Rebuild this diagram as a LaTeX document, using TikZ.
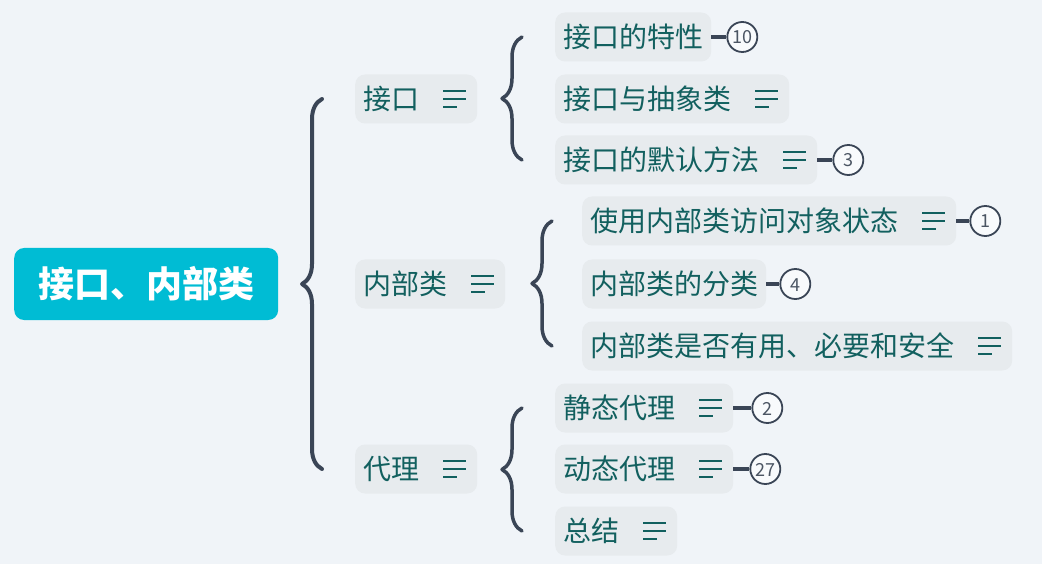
\documentclass[tikz,border=0pt]{standalone}
\usepackage{fontspec}
\setmainfont{Noto Sans CJK SC}
\usepackage{xcolor}
\definecolor{paper}{HTML}{F0F4F8}
\definecolor{chip}{HTML}{E7EBEE}
\definecolor{leaf}{HTML}{12605F}
\definecolor{rootfill}{HTML}{00BCD4}
\definecolor{slate}{HTML}{3A4556}
\definecolor{count}{HTML}{4B5563}
\usetikzlibrary{positioning, decorations.pathreplacing}
\tikzset{
  topic/.style={fill=chip, rounded corners=10pt, text=leaf, anchor=west,
    font=\fontsize{28}{32}\selectfont, minimum height=49pt, inner xsep=8pt, inner ysep=0pt,
    text height=23pt, text depth=2pt},
  noted/.style={topic, execute at end node={\hspace{50pt}},
    path picture={
      \draw[leaf, line width=2.6pt]
        ([xshift=-34pt, yshift=8pt]path picture bounding box.east) -- ++(23pt,0)
        ([xshift=-34pt]path picture bounding box.east) -- ++(23pt,0)
        ([xshift=-34pt, yshift=-8pt]path picture bounding box.east) -- ++(14pt,0);}},
  root/.style={fill=rootfill, rounded corners=10pt, text=white, anchor=west,
    font=\fontsize{36}{40}\selectfont\bfseries, minimum height=72pt, inner xsep=24pt,
    inner ysep=0pt, text height=30pt, text depth=2.5pt},
  tally/.style={circle, draw=slate, line width=1.8pt, fill=white!55!paper, text=count,
    minimum size=30pt, inner sep=0pt, font=\fontsize{18}{18}\selectfont,
    text height=15pt, text depth=1pt},
  stub/.style={draw=slate, line width=3.5pt},
  bracket/.style={draw=slate, line width=3.5pt, line cap=round, line join=round, decorate,
    decoration={brace, amplitude=20pt}},
}

\begin{document}
\begin{tikzpicture}[x=1pt, y=-1pt]
  \fill[paper] (0,0) rectangle (1042,564);
  \useasboundingbox (0,0) rectangle (1042,564);

  \node[root] (root) at (14,284) {接口、内部类};

  % first level
  \node[noted] (jk) at (355,99) {接口};
  \node[noted] (nbl) at (355,284) {内部类};
  \node[noted] (dl) at (355,469) {代理};

  % second level
  \node[topic] (jk1) at (555,37) {接口的特性};
  \node[noted] (jk2) at (555,99) {接口与抽象类};
  \node[noted] (jk3) at (555,160) {接口的默认方法};

  \node[noted] (nbl1) at (582,221) {使用内部类访问对象状态};
  \node[topic] (nbl2) at (582,284) {内部类的分类};
  \node[noted] (nbl3) at (582,346) {内部类是否有用、必要和安全};

  \node[noted] (dl1) at (555,408) {静态代理};
  \node[noted] (dl2) at (555,469) {动态代理};
  \node[noted] (dl3) at (555,531) {总结};

  % counters
  \node[tally, right=15pt of jk1] (n10) {10};
  \node[tally, right=15pt of jk3] (n3) {3};
  \node[tally, right=13pt of nbl1] (n1) {1};
  \node[tally, right=13pt of nbl2] (n4) {4};
  \node[tally, right=18pt of dl1] (n2) {2};
  \node[tally, right=16pt of dl2] (n27) {27};

  \draw[stub] (jk1) -- (n10);
  \draw[stub] (jk3) -- (n3);
  \draw[stub] (nbl1) -- (n1);
  \draw[stub] (nbl2) -- (n4);
  \draw[stub] (dl1) -- (n2);
  \draw[stub] (dl2) -- (n27);

  % braces
  \draw[bracket, line width=4pt] ([xshift=-33pt]dl.west) -- ([xshift=-33pt]jk.west);
  \draw[bracket] ([xshift=-33pt]jk3.west) -- ([xshift=-33pt]jk1.west);
  \draw[bracket] ([xshift=-30pt]nbl3.west) -- ([xshift=-30pt]nbl1.west);
  \draw[bracket] ([xshift=-33pt]dl3.west) -- ([xshift=-33pt]dl1.west);
\end{tikzpicture}
\end{document}
